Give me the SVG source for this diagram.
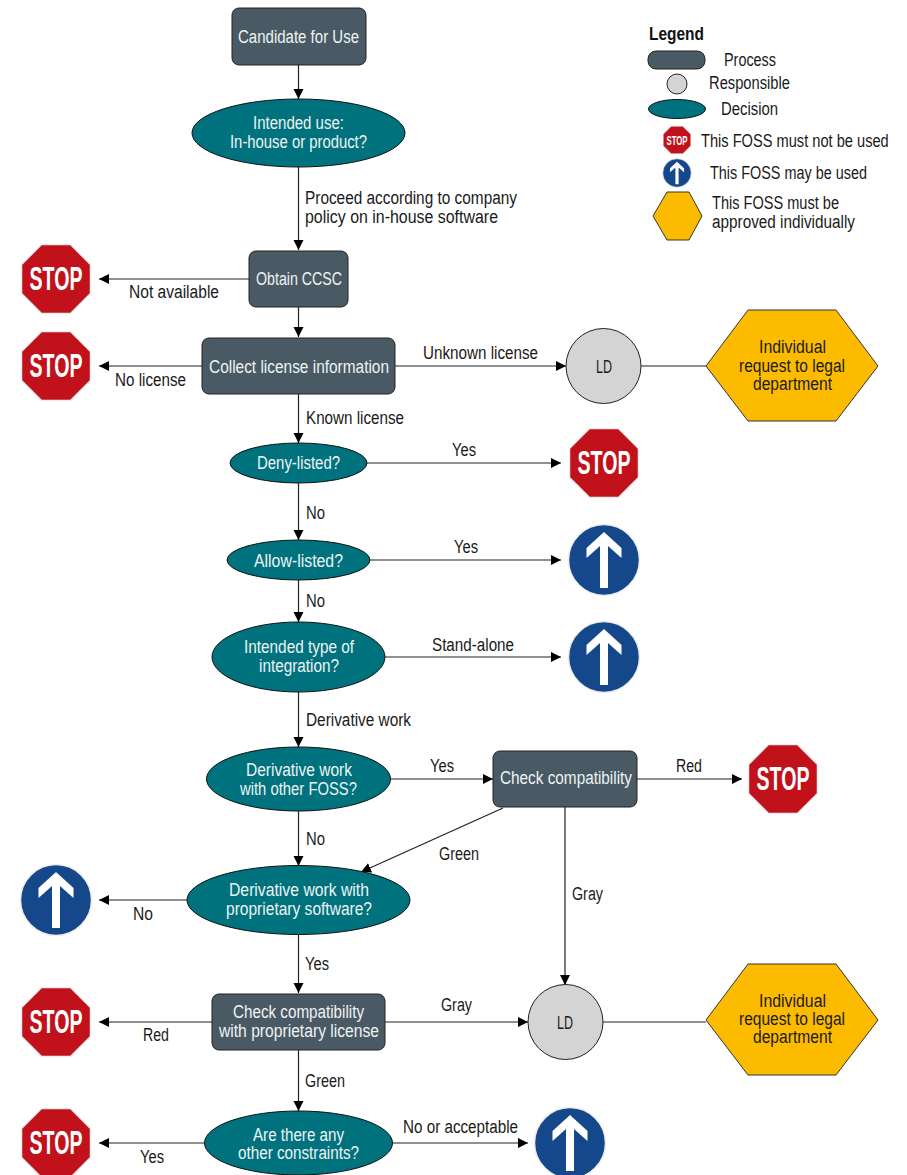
<svg xmlns="http://www.w3.org/2000/svg" width="907" height="1175" viewBox="0 0 907 1175">
<style>
text{font-family:"Liberation Sans",Arial,sans-serif;font-size:18px;fill:#1a1a1a}
.w{fill:#eef3f4}
.p{fill:#4a5a64;stroke:#222;stroke-width:1}
.d{fill:#00727d;stroke:#111;stroke-width:1}
.r{fill:#d4d4d4;stroke:#222;stroke-width:1}
.h{fill:#fdbb00;stroke:#333;stroke-width:1}
.oct{fill:#c1121c;stroke:#eeeeee;stroke-width:1.5}
.circ{fill:#14488a;stroke:#eeeeee;stroke-width:1.5}
.st{font-weight:bold;font-size:34px;fill:#fff}
.ar{fill:#fff}
.c line{stroke:#222;stroke-width:1.2;fill:none}
.c line.a{marker-end:url(#ah)}
.b{font-weight:bold;fill:#111}
</style>
<defs>
<marker id="ah" markerUnits="userSpaceOnUse" markerWidth="11" markerHeight="11" refX="10" refY="5.5" orient="auto"><path d="M0,0.5L10,5.5L0,10.5Z" fill="#000"/></marker>
<polygon id="octa" class="oct" points="-14.5,-34.5 14.5,-34.5 34.5,-14.5 34.5,14.5 14.5,34.5 -14.5,34.5 -34.5,14.5 -34.5,-14.5"/>
<polygon id="arw" class="ar" points="0,-28 17.5,-12 17.5,-2 4,-14 4,28 -4,28 -4,-14 -17.5,-2 -17.5,-12"/>
</defs>
<g id="connectors" class="c">
<line class="a" x1="298.5" y1="65" x2="298.5" y2="99"/>
<line class="a" x1="298.5" y1="166" x2="298.5" y2="250"/>
<line class="a" x1="249" y1="279" x2="99" y2="279"/>
<line class="a" x1="298.5" y1="307" x2="298.5" y2="337"/>
<line class="a" x1="202" y1="366" x2="99" y2="366"/>
<line class="a" x1="395" y1="366" x2="566" y2="366"/>
<line x1="640" y1="366" x2="706" y2="366"/>
<line class="a" x1="298.5" y1="394" x2="298.5" y2="443"/>
<line class="a" x1="367" y1="463" x2="561" y2="463"/>
<line class="a" x1="298.5" y1="483" x2="298.5" y2="540"/>
<line class="a" x1="370" y1="560" x2="561" y2="560"/>
<line class="a" x1="298.5" y1="580" x2="298.5" y2="622"/>
<line class="a" x1="385" y1="657" x2="561" y2="657"/>
<line class="a" x1="298.5" y1="692" x2="298.5" y2="747"/>
<line class="a" x1="390" y1="779" x2="493" y2="779"/>
<line class="a" x1="637" y1="779" x2="742" y2="779"/>
<line class="a" x1="298.5" y1="811" x2="298.5" y2="866"/>
<line class="a" x1="503" y1="808" x2="361" y2="872"/>
<line class="a" x1="565" y1="807" x2="565" y2="985"/>
<line class="a" x1="187" y1="900" x2="99" y2="900"/>
<line class="a" x1="298.5" y1="935" x2="298.5" y2="993"/>
<line class="a" x1="212" y1="1022" x2="99" y2="1022"/>
<line class="a" x1="385" y1="1022" x2="528" y2="1022"/>
<line x1="603" y1="1022" x2="706" y2="1022"/>
<line class="a" x1="298.5" y1="1050" x2="298.5" y2="1111"/>
<line class="a" x1="204" y1="1143" x2="99" y2="1143"/>
<line class="a" x1="392" y1="1143" x2="528" y2="1143"/>
</g>
<g id="edge-labels">
<text x="305" y="204" textLength="212" lengthAdjust="spacingAndGlyphs">Proceed according to company</text>
<text x="305" y="223" textLength="193" lengthAdjust="spacingAndGlyphs">policy on in-house software</text>
<text x="129" y="298" textLength="90" lengthAdjust="spacingAndGlyphs">Not available</text>
<text x="115" y="386" textLength="71" lengthAdjust="spacingAndGlyphs">No license</text>
<text x="423" y="359" textLength="115" lengthAdjust="spacingAndGlyphs">Unknown license</text>
<text x="306" y="424" textLength="98" lengthAdjust="spacingAndGlyphs">Known license</text>
<text x="452" y="456" textLength="24" lengthAdjust="spacingAndGlyphs">Yes</text>
<text x="306" y="519" textLength="19" lengthAdjust="spacingAndGlyphs">No</text>
<text x="454" y="553" textLength="24" lengthAdjust="spacingAndGlyphs">Yes</text>
<text x="306" y="607" textLength="19" lengthAdjust="spacingAndGlyphs">No</text>
<text x="432" y="651" textLength="82" lengthAdjust="spacingAndGlyphs">Stand-alone</text>
<text x="306" y="726" textLength="105" lengthAdjust="spacingAndGlyphs">Derivative work</text>
<text x="430" y="772" textLength="24" lengthAdjust="spacingAndGlyphs">Yes</text>
<text x="676" y="772" textLength="26" lengthAdjust="spacingAndGlyphs">Red</text>
<text x="306" y="845" textLength="19" lengthAdjust="spacingAndGlyphs">No</text>
<text x="439" y="860" textLength="40" lengthAdjust="spacingAndGlyphs">Green</text>
<text x="572" y="900" textLength="31" lengthAdjust="spacingAndGlyphs">Gray</text>
<text x="133" y="920" textLength="20" lengthAdjust="spacingAndGlyphs">No</text>
<text x="305" y="970" textLength="24" lengthAdjust="spacingAndGlyphs">Yes</text>
<text x="441" y="1011" textLength="31" lengthAdjust="spacingAndGlyphs">Gray</text>
<text x="143" y="1041" textLength="26" lengthAdjust="spacingAndGlyphs">Red</text>
<text x="305" y="1087" textLength="40" lengthAdjust="spacingAndGlyphs">Green</text>
<text x="403" y="1133" textLength="115" lengthAdjust="spacingAndGlyphs">No or acceptable</text>
<text x="140" y="1163" textLength="24" lengthAdjust="spacingAndGlyphs">Yes</text>
</g>
<g id="n-candidate"><rect class="p" x="232" y="8" width="134" height="57" rx="7"/><text class="w" x="238" y="43" textLength="121" lengthAdjust="spacingAndGlyphs">Candidate for Use</text></g>
<g id="n-intended-use"><ellipse class="d" cx="298.5" cy="133" rx="106.5" ry="34"/><text class="w" x="253" y="129" textLength="91" lengthAdjust="spacingAndGlyphs">Intended use:</text><text class="w" x="230" y="148" textLength="137" lengthAdjust="spacingAndGlyphs">In-house or product?</text></g>
<g id="n-ccsc"><rect class="p" x="249" y="251" width="99" height="56" rx="7"/><text class="w" x="256" y="285" textLength="86" lengthAdjust="spacingAndGlyphs">Obtain CCSC</text></g>
<g id="n-collect"><rect class="p" x="202" y="338" width="193" height="56" rx="7"/><text class="w" x="209" y="373" textLength="180" lengthAdjust="spacingAndGlyphs">Collect license information</text></g>
<g id="n-deny"><ellipse class="d" cx="298.5" cy="463" rx="68.5" ry="20"/><text class="w" x="257" y="469" textLength="83" lengthAdjust="spacingAndGlyphs">Deny-listed?</text></g>
<g id="n-allow"><ellipse class="d" cx="298.5" cy="560" rx="71.5" ry="20"/><text class="w" x="254" y="567" textLength="89" lengthAdjust="spacingAndGlyphs">Allow-listed?</text></g>
<g id="n-type"><ellipse class="d" cx="298.5" cy="657" rx="86.5" ry="35"/><text class="w" x="244" y="653" textLength="110" lengthAdjust="spacingAndGlyphs">Intended type of</text><text class="w" x="259" y="672" textLength="80" lengthAdjust="spacingAndGlyphs">integration?</text></g>
<g id="n-deriv-foss"><ellipse class="d" cx="298.5" cy="779" rx="92" ry="32"/><text class="w" x="246" y="776" textLength="106" lengthAdjust="spacingAndGlyphs">Derivative work</text><text class="w" x="240" y="795" textLength="117" lengthAdjust="spacingAndGlyphs">with other FOSS?</text></g>
<g id="n-check1"><rect class="p" x="493" y="751" width="144" height="56" rx="7"/><text class="w" x="500" y="784" textLength="132" lengthAdjust="spacingAndGlyphs">Check compatibility</text></g>
<g id="n-deriv-prop"><ellipse class="d" cx="298.5" cy="900" rx="111.5" ry="34.5"/><text class="w" x="229" y="896" textLength="140" lengthAdjust="spacingAndGlyphs">Derivative work with</text><text class="w" x="226" y="915" textLength="146" lengthAdjust="spacingAndGlyphs">proprietary software?</text></g>
<g id="n-check2"><rect class="p" x="212" y="994" width="173" height="56" rx="7"/><text class="w" x="233" y="1018" textLength="131" lengthAdjust="spacingAndGlyphs">Check compatibility</text><text class="w" x="219" y="1037" textLength="160" lengthAdjust="spacingAndGlyphs">with proprietary license</text></g>
<g id="n-other"><ellipse class="d" cx="298.5" cy="1143" rx="94" ry="32"/><text class="w" x="253" y="1141" textLength="91" lengthAdjust="spacingAndGlyphs">Are there any</text><text class="w" x="238" y="1159" textLength="121" lengthAdjust="spacingAndGlyphs">other constraints?</text></g>
<g id="n-ld1"><circle class="r" cx="603.5" cy="366" r="37.5"/><text x="596" y="373" textLength="16" lengthAdjust="spacingAndGlyphs">LD</text></g>
<g id="n-ld2"><circle class="r" cx="565.5" cy="1022" r="37.5"/><text x="557" y="1029" textLength="16" lengthAdjust="spacingAndGlyphs">LD</text></g>
<g id="n-hex1"><polygon class="h" points="706,366 748,310 836,310 878,366 836,421 748,421"/><text x="759" y="353" textLength="67" lengthAdjust="spacingAndGlyphs">Individual</text><text x="739" y="372" textLength="106" lengthAdjust="spacingAndGlyphs">request to legal</text><text x="753" y="390" textLength="79" lengthAdjust="spacingAndGlyphs">department</text></g>
<g id="n-hex2"><polygon class="h" points="706,1020 748,964 836,964 878,1020 836,1075 748,1075"/><text x="759" y="1007" textLength="67" lengthAdjust="spacingAndGlyphs">Individual</text><text x="739" y="1025" textLength="106" lengthAdjust="spacingAndGlyphs">request to legal</text><text x="753" y="1043" textLength="79" lengthAdjust="spacingAndGlyphs">department</text></g>
<g id="stop-1"><use href="#octa" x="56" y="279"/><text class="st" x="29.5" y="290" textLength="53" lengthAdjust="spacingAndGlyphs">STOP</text></g>
<g id="stop-2"><use href="#octa" x="56" y="366"/><text class="st" x="29.5" y="377" textLength="53" lengthAdjust="spacingAndGlyphs">STOP</text></g>
<g id="stop-3"><use href="#octa" x="604" y="463"/><text class="st" x="577.5" y="474" textLength="53" lengthAdjust="spacingAndGlyphs">STOP</text></g>
<g id="stop-4"><use href="#octa" x="783" y="779"/><text class="st" x="756.5" y="790" textLength="53" lengthAdjust="spacingAndGlyphs">STOP</text></g>
<g id="stop-5"><use href="#octa" x="56" y="1022"/><text class="st" x="29.5" y="1033" textLength="53" lengthAdjust="spacingAndGlyphs">STOP</text></g>
<g id="stop-6"><use href="#octa" x="56" y="1143"/><text class="st" x="29.5" y="1154" textLength="53" lengthAdjust="spacingAndGlyphs">STOP</text></g>
<g id="go-1" transform="translate(604 560)"><circle class="circ" r="35.5"/><use href="#arw"/></g>
<g id="go-2" transform="translate(604 657)"><circle class="circ" r="35.5"/><use href="#arw"/></g>
<g id="go-3" transform="translate(56 900)"><circle class="circ" r="35.5"/><use href="#arw"/></g>
<g id="go-4" transform="translate(570 1143)"><circle class="circ" r="35.5"/><use href="#arw"/></g>
<g id="legend">
<text class="b" x="649" y="40" textLength="55" lengthAdjust="spacingAndGlyphs">Legend</text>
<rect class="p" x="648" y="51" width="57" height="18" rx="8"/>
<text x="724" y="66" textLength="52" lengthAdjust="spacingAndGlyphs">Process</text>
<circle class="r" cx="677" cy="84" r="10"/>
<text x="709" y="89" textLength="81" lengthAdjust="spacingAndGlyphs">Responsible</text>
<ellipse class="d" cx="677" cy="109" rx="28.5" ry="9.5"/>
<text x="721" y="115" textLength="57" lengthAdjust="spacingAndGlyphs">Decision</text>
<use href="#octa" transform="translate(677 140) scale(0.4)"/>
<text class="st" style="font-size:13px" x="666.5" y="144.5" textLength="21" lengthAdjust="spacingAndGlyphs">STOP</text>
<text transform="translate(701 147) scale(.813 1)">This FOSS must not be used</text>
<g transform="translate(677 173) scale(0.4)"><circle class="circ" r="35.5"/><use href="#arw"/></g>
<text x="710" y="179" textLength="157" lengthAdjust="spacingAndGlyphs">This FOSS may be used</text>
<polygon class="h" points="653,216 667,192 689,192 702,216 689,240 667,240"/>
<text x="712" y="209" textLength="127" lengthAdjust="spacingAndGlyphs">This FOSS must be</text>
<text x="712" y="228" textLength="143" lengthAdjust="spacingAndGlyphs">approved individually</text>
</g>
</svg>
